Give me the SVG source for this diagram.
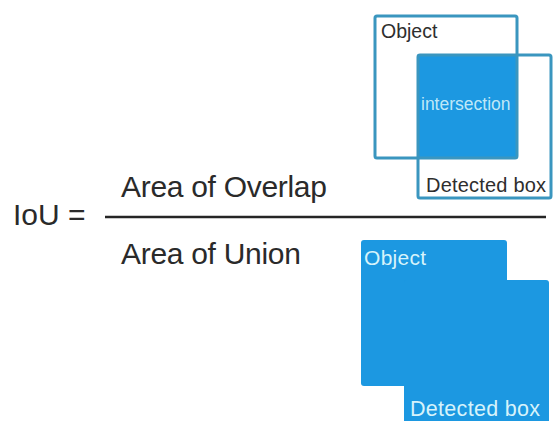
<svg xmlns="http://www.w3.org/2000/svg" width="553" height="421" viewBox="0 0 553 421">
  <style>
    .eq { font-family: "Liberation Sans", Arial, sans-serif; font-size: 30px; fill: #2a2a2a; }
    .lbl { font-family: "Liberation Sans", Arial, sans-serif; fill: #2e2e2e; }
    .lbl-light { font-family: "Liberation Sans", Arial, sans-serif; fill: #d6f3fb; }
    .outline { fill: none; stroke: #3a96bf; stroke-width: 3; }
    .blue { fill: #1c98e1; }
  </style>
  <rect width="553" height="421" fill="#ffffff"/>

  <!-- IoU formula -->
  <g id="formula">
    <text class="eq" x="13" y="225">IoU =</text>
    <text class="eq" x="121" y="197" letter-spacing="-0.3">Area of Overlap</text>
    <text class="eq" x="121" y="264" letter-spacing="-0.3">Area of Union</text>
    <line x1="105" y1="217" x2="546" y2="217" stroke="#252525" stroke-width="2.5"/>
  </g>

  <!-- Intersection: overlap of object and detected box -->
  <g id="intersection">
    <rect class="blue" x="417" y="54" width="101" height="104" rx="2"/>
    <text class="lbl-light" x="421" y="110" font-size="17.5" letter-spacing="0" fill-opacity="0.9">intersection</text>
  </g>
  <g id="object-box">
    <rect class="outline" x="375" y="16" width="142" height="142" rx="2"/>
    <text class="lbl" x="381" y="38" font-size="19.5" letter-spacing="0">Object</text>
  </g>
  <g id="detected-box">
    <rect class="outline" x="418" y="55" width="133" height="143" rx="2"/>
    <text class="lbl" x="426" y="192" font-size="20" letter-spacing="0.2">Detected box</text>
  </g>

  <!-- Union: object and detected box merged -->
  <g id="union">
    <rect class="blue" x="361" y="240" width="146" height="146" rx="3"/>
    <rect class="blue" x="404" y="280" width="145" height="150" rx="3"/>
    <text class="lbl-light" x="364" y="265" font-size="21" letter-spacing="0.3">Object</text>
    <text class="lbl-light" x="410" y="416" font-size="21.5" letter-spacing="0.3">Detected box</text>
  </g>

  <g id="connectors"/>
</svg>
